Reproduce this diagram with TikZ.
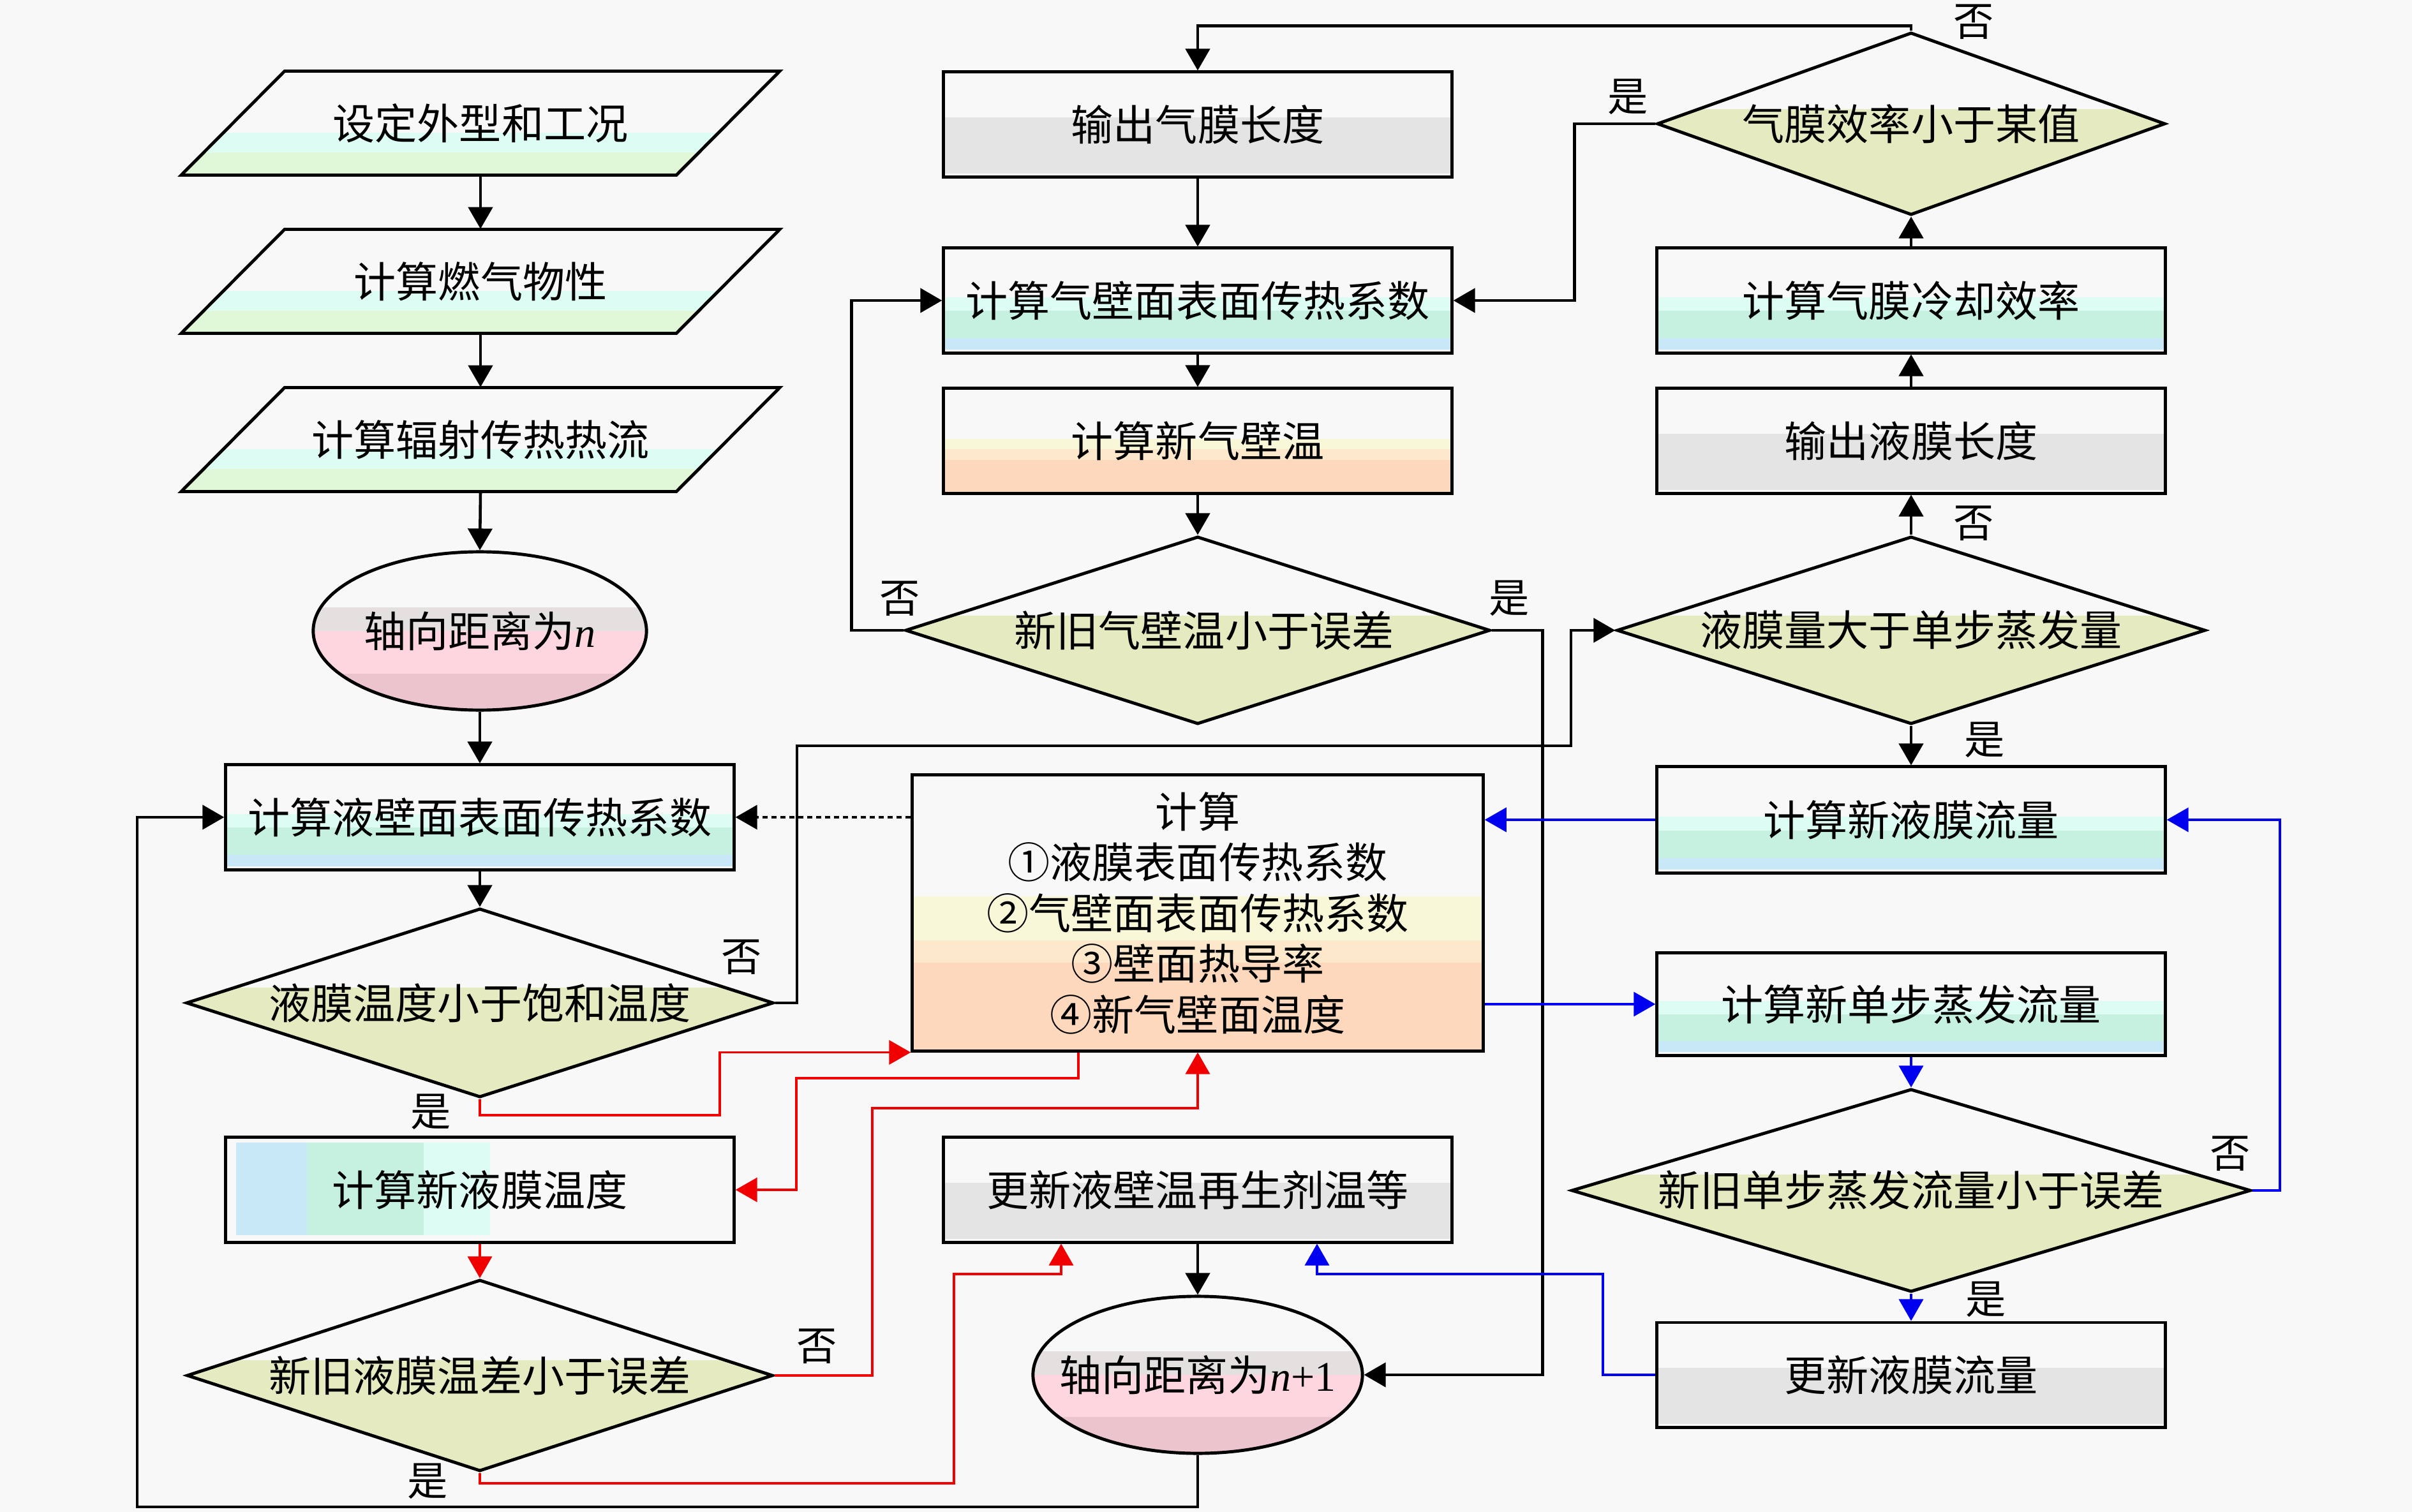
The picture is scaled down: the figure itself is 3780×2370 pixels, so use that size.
\documentclass[tikz,border=0pt]{standalone}
\usepackage{fontspec}
\setmainfont{Noto Sans CJK SC}
\newfontfamily\tnr{Liberation Serif}
\usetikzlibrary{shapes.geometric,arrows.meta,calc}

\definecolor{bgc}{HTML}{F8F8F8}
\definecolor{cyanb}{HTML}{DCFCF4}
\definecolor{greenb}{HTML}{E0F8D8}
\definecolor{mintb}{HTML}{C6F0E0}
\definecolor{blueb}{HTML}{C8E8F8}
\definecolor{grayb}{HTML}{E4E4E4}
\definecolor{yelb}{HTML}{F8F8D8}
\definecolor{creamb}{HTML}{FDE8CC}
\definecolor{peachb}{HTML}{FDD8BC}
\definecolor{oliveb}{HTML}{E6EAC0}
\definecolor{pinkb}{HTML}{FDD6DF}
\definecolor{pinkc}{HTML}{ECC4CE}
\definecolor{lgrayb}{HTML}{E4E0E0}
\definecolor{redc}{HTML}{F00000}
\definecolor{bluec}{HTML}{0000F0}

\newcommand\bnd[5]{%
  \coordinate (bxa) at ($(path picture bounding box.north west)!#1!(path picture bounding box.north east)$);
  \coordinate (bya) at ($(path picture bounding box.north west)!#2!(path picture bounding box.south west)$);
  \coordinate (bxb) at ($(path picture bounding box.north west)!#3!(path picture bounding box.north east)$);
  \coordinate (byb) at ($(path picture bounding box.north west)!#4!(path picture bounding box.south west)$);
  \fill[#5] (bxa |- bya) rectangle (bxb |- byb);}

\newcommand\paragram[2]{%
  \path[draw=black, line width=1.4pt, fill=bgc,
    path picture={\bnd{0}{0.59}{1}{0.78}{cyanb}\bnd{0}{0.78}{1}{1}{greenb}}]
    (#1-469,#2+81.5) -- (#1-307,#2-81.5) -- (#1+469,#2-81.5) -- (#1+307,#2+81.5) -- cycle;}

\tikzset{
  every node/.style={font=\fontsize{18.8pt}{22.6pt}\selectfont, text=black},
  box/.style={draw=black, line width=1.4pt, fill=bgc, minimum width=7.96cm, minimum height=1.64cm, inner sep=0pt},
  tealfill/.style={path picture={\bnd{0}{0.47}{1}{0.6}{cyanb}\bnd{0}{0.6}{1}{0.86}{mintb}\bnd{0}{0.86}{1}{0.97}{blueb}}},
  grayfill/.style={path picture={\bnd{0}{0.43}{1}{0.97}{grayb}}},
  orangefill/.style={path picture={\bnd{0}{0.48}{1}{0.58}{yelb}\bnd{0}{0.58}{1}{0.68}{creamb}\bnd{0}{0.68}{1}{1}{peachb}}},
  bigfill/.style={path picture={\bnd{0}{0.44}{1}{0.6}{yelb}\bnd{0}{0.6}{1}{0.68}{creamb}\bnd{0}{0.68}{1}{1}{peachb}}},
  vfill/.style={path picture={\bnd{0.02}{0.05}{0.16}{0.93}{blueb}\bnd{0.16}{0.05}{0.39}{0.93}{mintb}\bnd{0.39}{0.05}{0.52}{0.93}{cyanb}}},
  dia/.style={draw=black, line width=1.4pt, fill=bgc, shape=diamond, inner sep=0pt,
    path picture={\bnd{0}{0.42}{1}{1}{oliveb}}},
  ell/.style={draw=black, line width=1.4pt, fill=bgc, shape=ellipse, inner sep=0pt,
    path picture={\bnd{0}{0.35}{1}{0.5}{lgrayb}\bnd{0}{0.5}{1}{0.77}{pinkb}\bnd{0}{0.77}{1}{1}{pinkc}}},
  ptext/.style={minimum width=6cm, minimum height=1.63cm, inner sep=0pt},
  arr/.style={line width=1.3pt, black, -{Triangle[length=0.34cm,width=0.38cm]}},
  blu/.style={line width=1pt, bluec, -{Triangle[length=0.34cm,width=0.38cm]}},
  rd/.style={line width=1pt, redc, -{Triangle[length=0.34cm,width=0.38cm]}},
  dotarr/.style={line width=1.1pt, black, dash pattern=on 0.08cm off 0.06cm, -{Triangle[length=0.34cm,width=0.38cm]}},
  lbl/.style={font=\fontsize{18pt}{20pt}\selectfont, inner sep=0pt},
}

\begin{document}
\begin{tikzpicture}[x=0.01cm, y=-0.01cm]
\fill[bgc] (0,0) rectangle (3780,2370);
\useasboundingbox (0,0) rectangle (3780,2370);

% left column
\paragram{753}{193}
\node[ptext] (p1) at (753,193) {设定外型和工况};
\paragram{753}{441}
\node[ptext] (p2) at (753,441) {计算燃气物性};
\paragram{753}{689}
\node[ptext] (p3) at (753,689) {计算辐射传热热流};
\node[ell, minimum width=5.22cm, minimum height=2.48cm] (e1) at (752,989) {};
\node (e1t) at (752,989) {轴向距离为{\tnr\itshape n}};
\node[box, tealfill] (r1) at (752,1281) {计算液壁面表面传热系数};
\node[dia, aspect=3.11, minimum width=9.2cm, minimum height=2.96cm] (d1) at (752,1572) {液膜温度小于饱和温度};
\node[box, vfill] (r2) at (752,1865) {计算新液膜温度};
\node[dia, aspect=3.06, minimum width=9.18cm, minimum height=3.0cm] (d2) at (752,2156) {新旧液膜温差小于误差};

% middle column
\node[box, grayfill] (m1) at (1877,195) {输出气膜长度};
\node[box, tealfill] (m2) at (1877,471) {计算气壁面表面传热系数};
\node[box, orangefill] (m3) at (1877,691) {计算新气壁温};
\node[dia, aspect=3.12, minimum width=9.16cm, minimum height=2.94cm] (md) at (1877,988) {\hspace*{0.2cm}新旧气壁温小于误差};
\node[box, bigfill, minimum width=8.94cm, minimum height=4.32cm, align=center] (big) at (1877,1431)
  {计算\\①液膜表面传热系数\\②气壁面表面传热系数\\③壁面热导率\\④新气壁面温度};
\node[box, grayfill] (m4) at (1877,1865) {更新液壁温再生剂温等};
\node[ell, minimum width=5.16cm, minimum height=2.46cm] (e2) at (1877,2155) {};
\node (e2t) at (1877,2155) {轴向距离为{\tnr\itshape n}{\tnr +1}};

% right column
\node[dia, aspect=2.78, minimum width=7.96cm, minimum height=2.86cm] (rd1) at (2995,194) {气膜效率小于某值};
\node[box, tealfill] (r3) at (2995,471) {计算气膜冷却效率};
\node[box, grayfill] (r4) at (2995,691) {输出液膜长度};
\node[dia, aspect=3.14, minimum width=9.22cm, minimum height=2.94cm] (rd2) at (2995,988) {液膜量大于单步蒸发量};
\node[box, tealfill, minimum height=1.66cm] (r5) at (2995,1285) {计算新液膜流量};
\node[box, tealfill, minimum height=1.6cm] (r6) at (2995,1574) {计算新单步蒸发流量};
\node[dia, aspect=3.35, minimum width=10.64cm, minimum height=3.18cm] (rd3) at (2995,1866) {新旧单步蒸发流量小于误差};
\node[box, grayfill] (r7) at (2995,2155) {更新液膜流量};

% black connectors
\draw[arr] (p1.south) -- (p2.north);
\draw[arr] (p2.south) -- (p3.north);
\draw[arr] (p3.south) -- (e1.north);
\draw[arr] (e1.south) -- (r1.north);
\draw[arr] (r1.south) -- (d1.north);
\draw[arr] (d1.east) -- (1249,1572) |- (2462,1169) |- (rd2.west);
\draw[arr] (m1.south) -- (m2.north);
\draw[arr] (m2.south) -- (m3.north);
\draw[arr] (m3.south) -- (md.north);
\draw[arr] (md.west) -- ++(-82,0) |- (m2.west);
\draw[arr] (md.east) -- ++(80,0) |- (e2.east);
\draw[arr] (rd1.west) -- ++(-127,0) |- (m2.east);
\draw[arr] (rd1.north) -- ++(0,-8) -| (m1.north);
\draw[arr] (r3.north) -- (rd1.south);
\draw[arr] (r4.north) -- (r3.south);
\draw[arr] (rd2.north) -- (r4.south);
\draw[arr] (rd2.south) -- (r5.north);
\draw[arr] (m4.south) -- (e2.north);
\draw[arr] (e2.south) |- (215,2362) |- (r1.west);
\draw[dotarr] (big.west |- r1.east) -- (r1.east);

% blue connectors
\draw[blu] (r5.west) -- (big.east |- r5.west);
\draw[blu] (big.east |- r6.west) -- (r6.west);
\draw[blu] (r6.south) -- (rd3.north);
\draw[blu] (rd3.east) -- ++(43,0) |- (r5.east);
\draw[blu] (rd3.south) -- (r7.north);
\draw[blu] (r7.west) -| (2512,1997) -| ($(m4.south)+(187,0)$);

% red connectors
\draw[rd] (d1.south) |- (1128,1748) |- (big.south west);
\draw[rd] ($(big.south)+(-187,0)$) |- (1248,1690) |- (r2.east);
\draw[rd] (r2.south) -- (d2.north);
\draw[rd] (d2.east) -| (1367,1737) -| (big.south);
\draw[rd] (d2.south) |- (1495,2325) |- (1663,1997) -- ($(m4.south)+(-214,0)$);

% labels
\node[lbl] (l1) at (1162,1500) {否};
\node[lbl] (l2) at (675,1743) {是};
\node[lbl] (l3) at (1280,2110) {否};
\node[lbl] (l4) at (670,2322) {是};
\node[lbl] (l5) at (1410,938) {否};
\node[lbl] (l6) at (2365,938) {是};
\node[lbl] (l7) at (2551,152) {是};
\node[lbl] (l8) at (3093,34) {否};
\node[lbl] (l9) at (3093,820) {否};
\node[lbl] (l10) at (3110,1160) {是};
\node[lbl] (l11) at (3495,1808) {否};
\node[lbl] (l12) at (3112,2037) {是};
\end{tikzpicture}
\end{document}
